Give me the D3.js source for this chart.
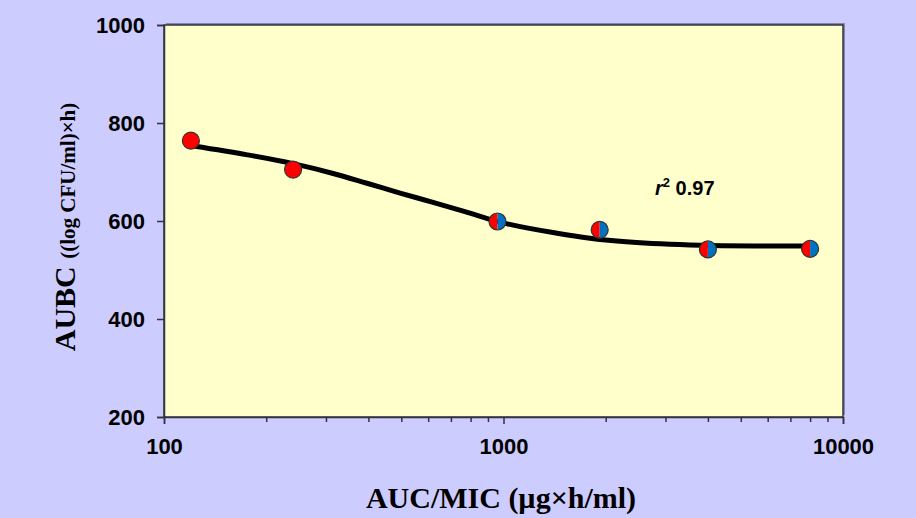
<!DOCTYPE html>
<html lang="en">
<head>
  <meta charset="UTF-8">
  <title>AUBC vs AUC/MIC</title>
  <script src="https://d3js.org/d3.v7.min.js"></script>
  <style>
    body { margin: 0; background: #ccccff; }
    svg { display: block; }
    .tick-label { font-family: "Liberation Sans", Arial, sans-serif; font-weight: bold; font-size: 22px; fill: #000; }
    .title { font-family: "Liberation Serif", "Times New Roman", serif; font-weight: bold; fill: #000; }
  </style>
</head>
<body>
<svg width="916" height="518"></svg>

<script>
  // observed points
  const aucMic = [120, 240, 960, 1920, 4000, 8000];
  const aubc = [764, 705, 599, 582, 542, 543];
  const pointKind = ["red", "red", "half", "half", "half", "half"];

  // fitted curve
  const fitX = [122, 176, 240, 315, 396, 496, 620, 770, 960, 1438, 1798, 2249, 3540, 5500, 8000];
  const fitY = [753, 735, 717, 697, 677, 657, 638, 619, 599, 575, 565, 558, 551, 549, 549];

  const xTicks = [100, 1000, 10000];
  const yTicks = [200, 400, 600, 800, 1000];

  const svg = d3.select("svg");
  const plotL = 164, plotR = 843, plotT = 25, plotB = 417;

  const x = d3.scaleLog().domain([100, 10000]).range([plotL, plotR]);
  const y = d3.scaleLinear().domain([200, 1000]).range([plotB, plotT]);

  // plot area
  svg.append("rect")
    .attr("x", plotL + 2).attr("y", plotT - 2)
    .attr("width", plotR - plotL).attr("height", plotB - plotT)
    .attr("fill", "#55557a").attr("opacity", 0.6);
  svg.append("rect")
    .attr("x", plotL).attr("y", plotT)
    .attr("width", plotR - plotL).attr("height", plotB - plotT)
    .attr("fill", "#ffffcc")
    .attr("stroke", "#333340").attr("stroke-width", 1.5);

  // y axis ticks
  const yAxis = d3.axisLeft(y).tickValues(yTicks).tickSize(7).tickPadding(12).tickFormat(d3.format("d"));
  const gy = svg.append("g").attr("transform", `translate(${plotL},0)`).call(yAxis);
  gy.select(".domain").attr("stroke", "#333340").attr("stroke-width", 1.5);
  gy.selectAll(".tick line").attr("stroke", "#333340").attr("stroke-width", 1.5);
  gy.selectAll("text").attr("class", "tick-label").attr("dy", "0.36em");

  // x axis: majors labelled, minors without labels
  const minor = x.ticks().filter(v => !xTicks.includes(v));
  const gxMinor = svg.append("g").attr("transform", `translate(0,${plotB})`)
    .call(d3.axisBottom(x).tickValues(minor).tickSize(5).tickFormat(""));
  gxMinor.select(".domain").remove();
  gxMinor.selectAll(".tick line").attr("stroke", "#333340").attr("stroke-width", 1.5);

  const gx = svg.append("g").attr("transform", `translate(0,${plotB})`)
    .call(d3.axisBottom(x).tickValues(xTicks).tickSize(7).tickPadding(14).tickFormat(d3.format("d")));
  gx.select(".domain").attr("stroke", "#333340").attr("stroke-width", 1.5);
  gx.selectAll(".tick line").attr("stroke", "#333340").attr("stroke-width", 1.5);
  gx.selectAll("text").attr("class", "tick-label");

  // fitted curve
  const line = d3.line()
    .x((d, i) => x(fitX[i]))
    .y(d => y(d))
    .curve(d3.curveMonotoneX);
  svg.append("path")
    .datum(fitY)
    .attr("d", line)
    .attr("fill", "none")
    .attr("stroke", "#000")
    .attr("stroke-width", 5);

  // points
  const r = 8.5;
  const leftHalf = d3.arc().innerRadius(0).outerRadius(r).startAngle(Math.PI).endAngle(2 * Math.PI);
  const rightHalf = d3.arc().innerRadius(0).outerRadius(r).startAngle(0).endAngle(Math.PI);

  aucMic.forEach((v, i) => {
    const g = svg.append("g").attr("transform", `translate(${x(v)},${y(aubc[i])})`);
    if (pointKind[i] === "red") {
      g.append("circle").attr("r", r).attr("fill", "#ff0000");
    } else {
      g.append("path").attr("d", leftHalf()).attr("fill", "#ff0000");
      g.append("path").attr("d", rightHalf()).attr("fill", "#0070c0");
    }
    g.append("circle").attr("r", r).attr("fill", "none")
      .attr("stroke", "#333").attr("stroke-width", 1.2);
  });

  // r squared
  const rt = svg.append("text")
    .attr("x", 655).attr("y", 195)
    .attr("font-family", "Liberation Sans, Arial, sans-serif")
    .attr("font-weight", "bold").attr("font-size", 20);
  rt.append("tspan").attr("font-style", "italic").text("r");
  rt.append("tspan").attr("font-size", 13).attr("dy", -8).text("2");
  rt.append("tspan").attr("dy", 8).text(" 0.97");

  // axis titles
  svg.append("text")
    .attr("class", "title")
    .attr("x", 501).attr("y", 508)
    .attr("text-anchor", "middle")
    .attr("font-size", 30)
    .text("AUC/MIC (µg×h/ml)");

  const yt = svg.append("text")
    .attr("class", "title")
    .attr("transform", "translate(75,227) rotate(-90)")
    .attr("text-anchor", "middle");
  yt.append("tspan").attr("font-size", 30).text("AUBC ");
  yt.append("tspan").attr("font-size", 21).text("((log CFU/ml)×h)");
</script>
</body>
</html>
